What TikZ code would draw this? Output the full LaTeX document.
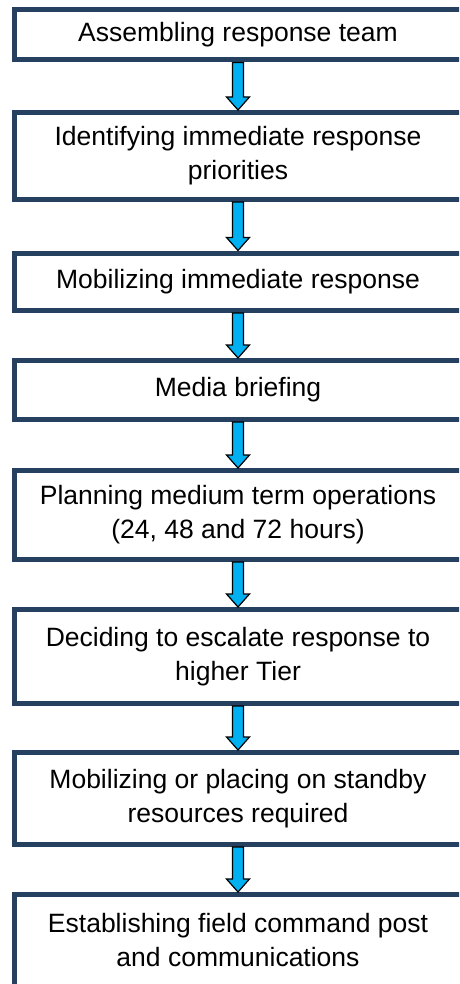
\documentclass[tikz,border=0pt]{standalone}
\usepackage{fontspec}
\setmainfont{Liberation Sans}
\usetikzlibrary{calc}
\definecolor{tnavy}{RGB}{38,64,96}
\definecolor{tcyan}{RGB}{0,176,240}

% block arrow from the bottom of one box to the top of the next
\newcommand{\blockarrow}[2]{%
  \filldraw[blk] let \p1=(#1.south), \p2=(#2.north) in
    (\x1-5.5pt,\y1) -- (\x1+5.5pt,\y1) -- (\x1+5.5pt,\y2+13pt)
    -- (\x1+11.5pt,\y2+13pt) -- (\x1,\y2) -- (\x1-11.5pt,\y2+13pt)
    -- (\x1-5.5pt,\y2+13pt) -- cycle;}

\begin{document}
\begin{tikzpicture}[
    x=1pt, y=-1pt,
    font=\fontsize{26.5}{34}\selectfont,
    stage/.style={draw=tnavy, line width=5pt, fill=white, align=center,
                  minimum width=448pt, inner sep=0pt},
    blk/.style={fill=tcyan, draw=black, line width=1.2pt, line join=miter},
]
\useasboundingbox (0,0) rectangle (459,984);
\clip (0,0) rectangle (459,984);

% ---------- stages ----------
\node[stage, minimum height=50.5pt] (team)  at (238,34.75) {Assembling response team};
\node[stage, minimum height=87pt]   (prio)  at (238,156)   {Identifying immediate response\\priorities};
\node[stage, minimum height=57.5pt] (mob)   at (238,281.75){Mobilizing immediate response};
\node[stage, minimum height=59pt]   (media) at (238,390)   {Media briefing};
\node[stage, minimum height=89pt]   (plan)  at (238,515)   {Planning medium term operations\\(24, 48 and 72 hours)};
\node[stage, minimum height=94pt]   (tier)  at (238,656.5) {Deciding to escalate response to\\higher Tier};
\node[stage, minimum height=92pt]   (res)   at (238,798.5) {Mobilizing or placing on standby\\resources required};
\node[stage, minimum height=92pt]   (post)  at (238,940.5) {Establishing field command post\\and communications};

% ---------- arrows ----------
\blockarrow{team}{prio}
\blockarrow{prio}{mob}
\blockarrow{mob}{media}
\blockarrow{media}{plan}
\blockarrow{plan}{tier}
\blockarrow{tier}{res}
\blockarrow{res}{post}

\end{tikzpicture}
\end{document}
